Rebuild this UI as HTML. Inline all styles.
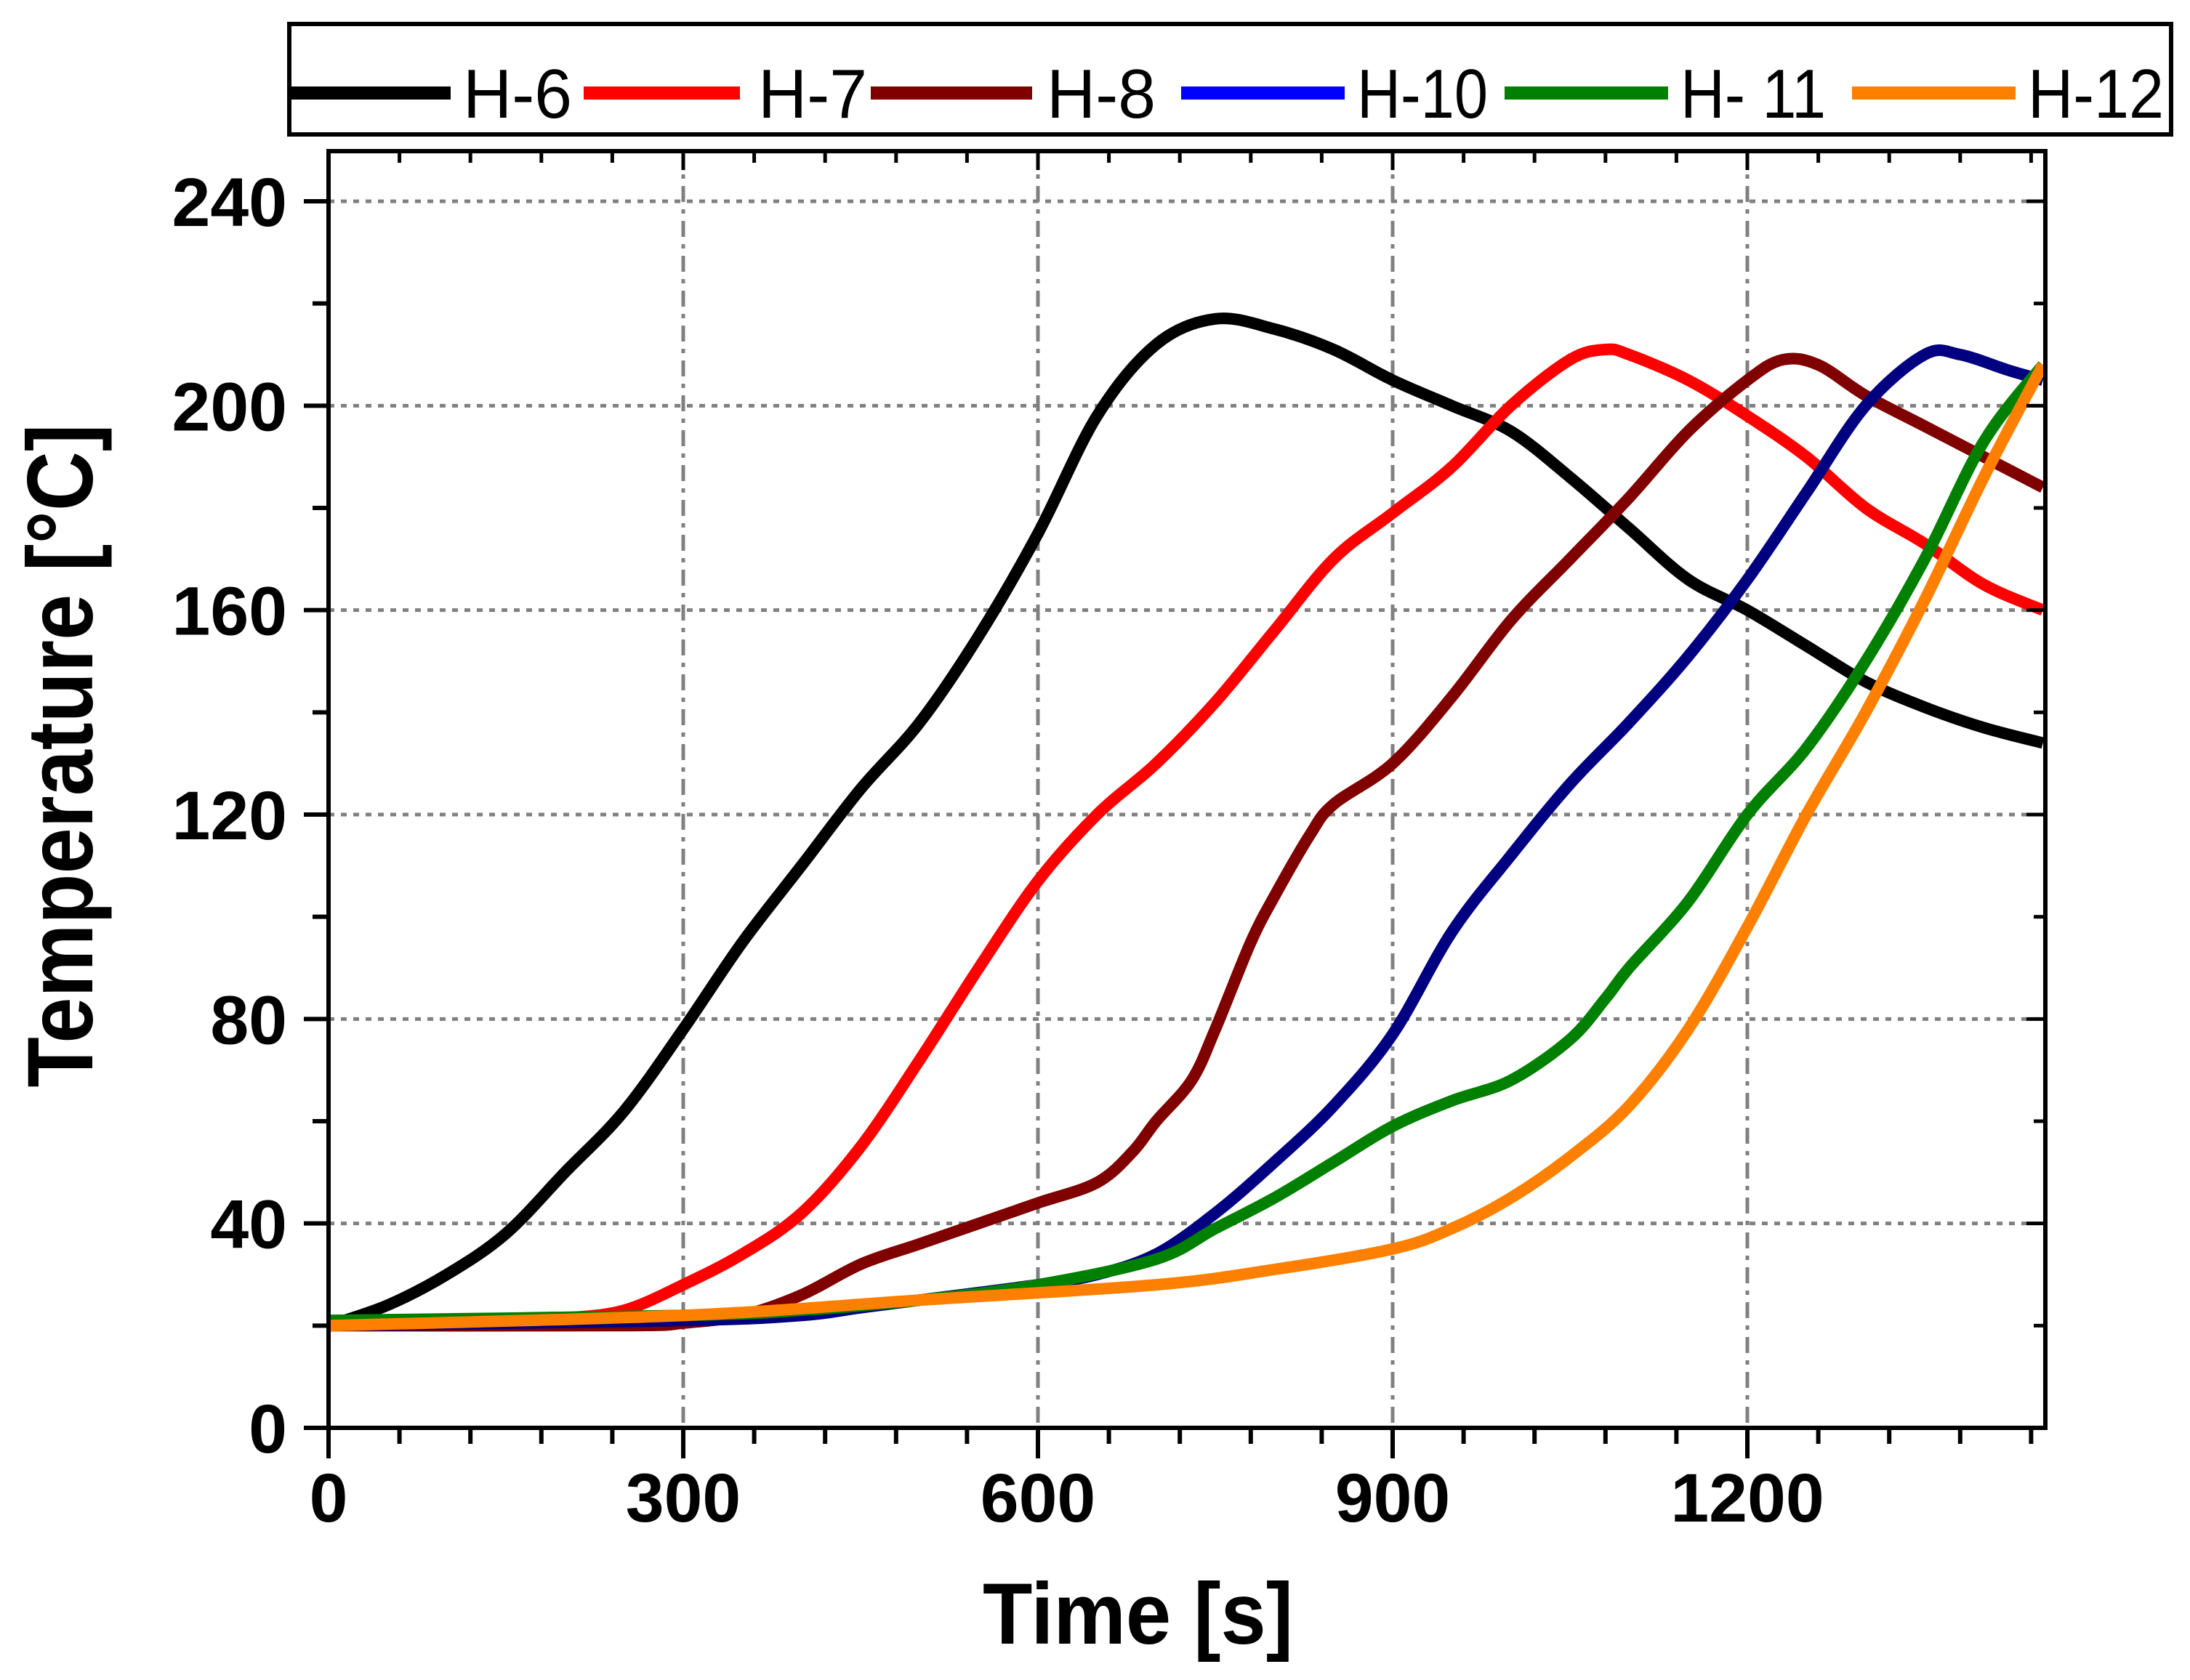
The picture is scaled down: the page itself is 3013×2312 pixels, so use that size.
<!DOCTYPE html>
<html><head><meta charset="utf-8"><style>
html,body{margin:0;padding:0;background:#fff}
svg{display:block}
</style></head><body>
<svg id="chart" width="3013" height="2312" viewBox="0 0 3013 2312" xmlns="http://www.w3.org/2000/svg">
<rect width="3013" height="2312" fill="#fff"/>
<g id="grid"></g>
<g id="series"></g>
<g id="axes"></g>
<g id="legend"></g>
<text x="1352" y="2262" font-family="Liberation Sans, sans-serif" font-weight="bold" font-size="120" textLength="427" lengthAdjust="spacingAndGlyphs">Time [s]</text>
<text transform="translate(127,1040) rotate(-90)" text-anchor="middle" font-family="Liberation Sans, sans-serif" font-weight="bold" font-size="128" textLength="913" lengthAdjust="spacingAndGlyphs">Temperature [°C]</text>
</svg>
<script>
const seriesNames = ["H-6","H-7","H-8","H-10","H-11","H-12"];
const legendLabels = ["H-6","H-7","H-8","H-10","H- 11","H-12"];
const seriesColors = ["#000000","#ff0000","#800000","#000080","#008000","#ff8000"];
const legendColors = ["#000000","#ff0000","#800000","#0000ff","#008000","#ff8000"];
const xTicks = [0,300,600,900,1200];
const yTicks = [0,40,80,120,160,200,240];
const h6T = [0,50,100,150,200,250,300,350,400,450,500,550,600,650,700,750,800,850,900,950,1000,1050,1100,1150,1200,1250,1300,1350,1400,1450];
const h6V = [20,24,30,38,50,62,78,95,110,125,138,155,175,198,212,217,215,211,205,200,195,186,176,166,160,153,146,141,137,134];
const h7T = [0,150,200,250,300,350,400,450,500,550,600,650,700,750,800,850,900,950,1000,1050,1080,1100,1150,1200,1250,1300,1350,1400,1450];
const h7V = [21,21,21.5,23,28,34,42,55,72,90,107,120,130,142,156,170,179,188,200,209,211,210,205,198,190,180,173,165,160];
const h8T = [0,250,300,350,400,450,500,550,600,650,680,700,730,750,780,800,830,850,900,950,1000,1050,1100,1150,1200,1230,1260,1300,1350,1400,1450];
const h8V = [20,20,20.5,22,26,32,36,40,44,48,54,60,68,78,95,104,116,122,130,143,158,170,182,195,205,209,208,202,196,190,184];
const h10T = [0,300,400,450,500,600,650,700,750,800,850,900,950,1000,1050,1100,1150,1200,1250,1300,1350,1380,1420,1450];
const h10V = [20,21,22,23.5,25,28,30,34,42,52,63,77,97,112,126,138,151,166,183,200,210,210,207,205];
const h11T = [0,300,400,500,600,700,750,800,850,900,950,1000,1050,1080,1100,1150,1200,1250,1300,1350,1400,1450];
const h11V = [21,22,23,25,28,33,39,45,52,59,64,68,76,84,90,103,120,133,150,170,193,208];
const h12T = [0,300,500,700,800,900,950,1000,1050,1100,1150,1200,1250,1300,1350,1400,1450];
const h12V = [20,22,25,28,31,35,39,45,53,63,78,98,120,140,162,186,208];
const allT = [h6T,h7T,h8T,h10T,h11T,h12T];
const allV = [h6V,h7V,h8V,h10V,h11V,h12V];

const L=452,R=2814,T=208,B=1965,XMAX=1452,YMAX=240;
const yTop=277;
function sx(t){return L+t*(1428-L)/600;}
function sy(v){return B-v*(B-yTop)/YMAX;}
const NS="http://www.w3.org/2000/svg";
function mk(tag,attrs,parent){const e=document.createElementNS(NS,tag);for(const k in attrs)e.setAttribute(k,attrs[k]);parent.appendChild(e);return e;}
const grid=document.getElementById('grid'),axes=document.getElementById('axes'),ser=document.getElementById('series'),leg=document.getElementById('legend');

function smoothPath(P){
 let d='M'+P[0][0].toFixed(1)+','+P[0][1].toFixed(1);
 for(let i=0;i<P.length-1;i++){
  const p0=P[Math.max(0,i-1)],p1=P[i],p2=P[i+1],p3=P[Math.min(P.length-1,i+2)];
  const c1=[p1[0]+(p2[0]-p0[0])/6,p1[1]+(p2[1]-p0[1])/6];
  const c2=[p2[0]-(p3[0]-p1[0])/6,p2[1]-(p3[1]-p1[1])/6];
  d+=' C'+c1[0].toFixed(1)+','+c1[1].toFixed(1)+' '+c2[0].toFixed(1)+','+c2[1].toFixed(1)+' '+p2[0].toFixed(1)+','+p2[1].toFixed(1);
 }
 return d;
}

xTicks.forEach(t=>{if(t===0)return;
 const g=mk('line',{x1:sx(t),x2:sx(t),y1:T,y2:B,stroke:'#808080','stroke-width':5,'stroke-dasharray':'22 10 6 10'},grid);
 
 });
yTicks.forEach(v=>{if(v===0)return;
 const g=mk('line',{x1:L,x2:R,y1:sy(v),y2:sy(v),stroke:'#808080','stroke-width':5,'stroke-dasharray':'8 9'},grid);
 
 });

allT.forEach((ts,i)=>{
 const P=ts.map((t,j)=>[sx(t),sy(allV[i][j])]);
 const p=mk('path',{d:smoothPath(P),fill:'none',stroke:seriesColors[i],'stroke-width':16,'stroke-linejoin':'round','stroke-linecap':'butt'},ser);
 
 
});

const fr=mk('rect',{x:L,y:T,width:R-L,height:B-T,fill:'none',stroke:'#000','stroke-width':6},axes);


for(let t=0;t<=XMAX;t+=60){
 const major=t%300===0;
 const tk=mk('line',{x1:sx(t),x2:sx(t),y1:B,y2:B+(major?42:22),stroke:'#000','stroke-width':6},axes);
 
 
 const tt=mk('line',{x1:sx(t),x2:sx(t),y1:T,y2:T+(major?26:16),stroke:'#000','stroke-width':5},axes);
 
 
}
xTicks.forEach(t=>{
 const lb=mk('text',{x:sx(t),y:2094,'text-anchor':'middle','font-family':'Liberation Sans, sans-serif','font-weight':'bold','font-size':95},axes);
 lb.textContent=t;
 
 
});
for(let v=0;v<=YMAX;v+=20){
 const major=v%40===0;
 const tk=mk('line',{x1:L-(major?34:22),x2:L,y1:sy(v),y2:sy(v),stroke:'#000','stroke-width':6},axes);
 
 
 const tr=mk('line',{x1:R-(major?26:16),x2:R,y1:sy(v),y2:sy(v),stroke:'#000','stroke-width':5},axes);
 
 
}
yTicks.forEach(v=>{
 const lb=mk('text',{x:395,y:sy(v)+34,'text-anchor':'end','font-family':'Liberation Sans, sans-serif','font-weight':'bold','font-size':95},axes);
 lb.textContent=v;
 
 
});

const lbox=mk('rect',{x:398,y:33,width:2589,height:152,fill:'#fff',stroke:'#000','stroke-width':6},leg);


const lx1=[398,803,1198,1625,2070,2548],lx2=[620,1018,1420,1850,2295,2773],tx=[637,1043,1440,1867,2312,2790],tw=[150,150,150,180,200,187];
legendLabels.forEach((s,i)=>{
 const ln=mk('line',{x1:lx1[i],x2:lx2[i],y1:128,y2:128,stroke:legendColors[i],'stroke-width':18},leg);
 
 
 const t=mk('text',{x:tx[i],y:162,'font-family':'Liberation Sans, sans-serif','font-size':96,textLength:tw[i],lengthAdjust:'spacingAndGlyphs'},leg);
 t.textContent=s;
 
 
});
</script>
</body></html>
